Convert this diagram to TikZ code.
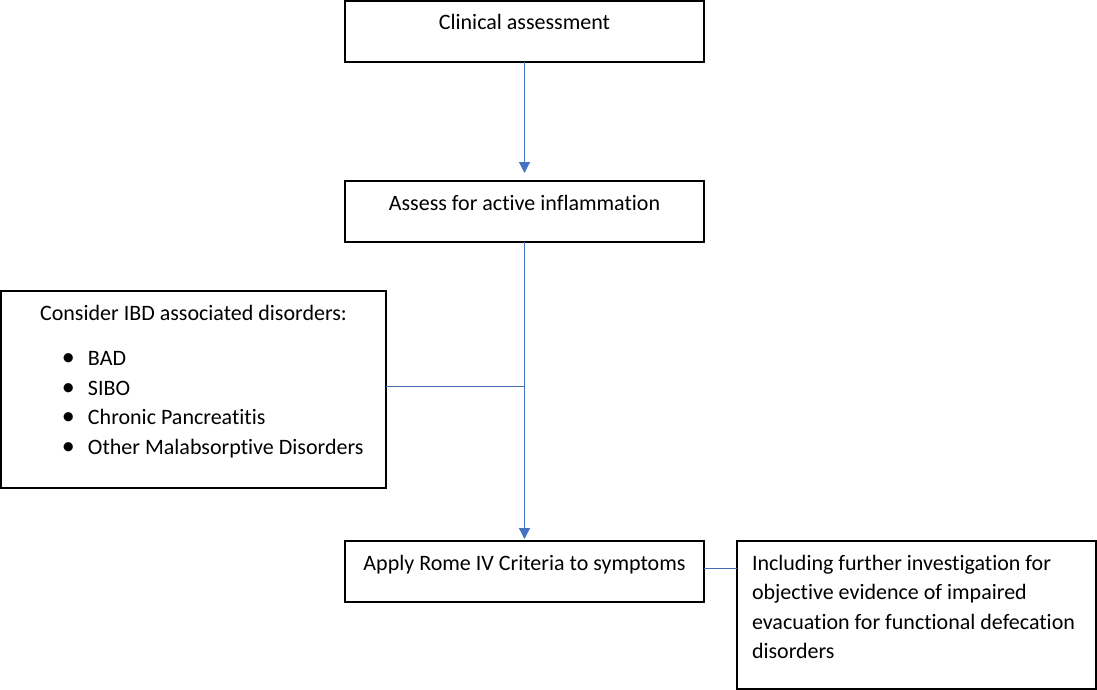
\documentclass[tikz,border=0pt]{standalone}
\usepackage{fontspec}
\setmainfont[Ligatures=NoCommon]{Carlito}
\usetikzlibrary{arrows.meta}

\definecolor{flowblue}{HTML}{4472C4}
\definecolor{linkblue}{HTML}{4A6DB0}

% top aligned text inside a box of fixed size
\newcommand\boxtext[4]{\parbox[t][#2][t]{#1}{#3\rule{0pt}{29pt}#4}}
\newcommand\listdot{\makebox[87pt][l]{\hspace{61pt}{\fontsize{26}{26}\selectfont\textbullet}}}

\def\BW{359pt}
\def\BH{61pt}

\begin{document}
\begin{tikzpicture}[x=1pt,y=-1pt]
    \tikzset{
      stepbox/.style={draw,line width=2pt,inner sep=0pt,outer sep=0pt,
        font=\fontsize{22}{29.5}\selectfont},
      flow/.style={draw=flowblue,line width=1.2pt,-{Triangle[width=11pt,length=11pt]}},
      link/.style={draw=linkblue,line width=1pt}
    }
    \useasboundingbox (0,0) rectangle (1097,690);

    \node[stepbox] (clin) at (524.5,31.5)
      {\boxtext{\BW}{\BH}{\centering}{Clinical assessment}};
    \node[stepbox] (assess) at (524.5,211.5)
      {\boxtext{\BW}{\BH}{\centering}{Assess for active inflammation}};
    \node[stepbox] (ibd) at (193.5,389.5)
      {\boxtext{385pt}{197pt}{\centering}{Consider IBD associated disorders:\par
        \vspace{16pt}\raggedright
        \listdot BAD\\
        \listdot SIBO\\
        \listdot Chronic Pancreatitis\\
        \listdot Other Malabsorptive Disorders}};
    \node[stepbox] (rome) at (524.5,571.5)
      {\boxtext{\BW}{\BH}{\centering}{Apply Rome IV Criteria to symptoms}};
    \node[stepbox] (incl) at (916.5,615)
      {\boxtext{\BW}{148pt}{\raggedright\leftskip=15pt}{Including further investigation for\\
        objective evidence of impaired\\
        evacuation for functional defecation\\
        disorders}};

    \coordinate (junc) at (524.5,386.5);

    \path[flow] (clin) -- (assess) [shorten >=8pt];
    \draw[flow,shorten >=2pt] (assess) -- (rome);
    \draw[link] (ibd.east |- junc) -- (junc);
    \draw[link] ([yshift=3pt]rome.east) -- ([yshift=3pt]rome.east -| incl.west);
\end{tikzpicture}
\end{document}
